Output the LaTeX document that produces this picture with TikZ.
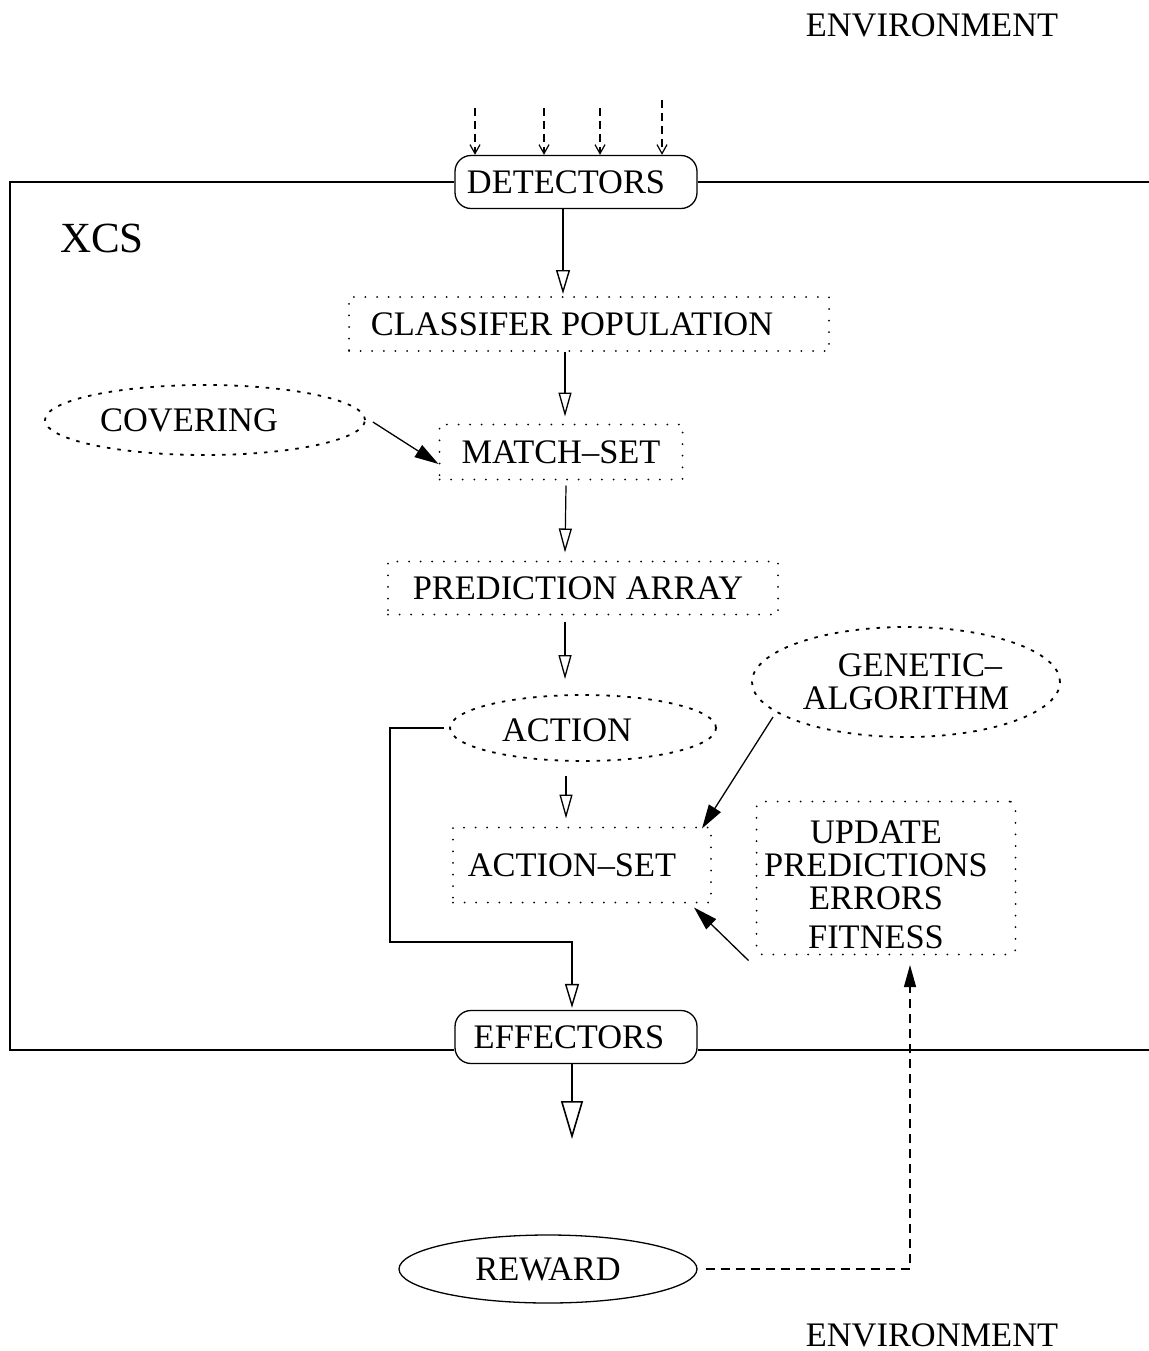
\documentclass[tikz,border=0pt]{standalone}
\usepackage{fontspec}
\setmainfont{Liberation Serif}
\usetikzlibrary{arrows.meta,shapes.geometric,calc}
\begin{document}
\begin{tikzpicture}[x=1pt,y=-1pt,
  every node/.style={font=\fontsize{34.4}{37}\selectfont, inner sep=0pt},
  unit/.style={draw, rounded corners=16pt, line width=1.3pt, minimum width=242pt, minimum height=53pt},
  dotbox/.style={draw, line width=2pt, dash pattern=on 0pt off 11.6pt, line cap=round},
  dotell/.style={draw, ellipse, line width=1.8pt, dash pattern=on 3.5pt off 7pt},
  solidell/.style={draw, ellipse, line width=1.3pt},
  openarr/.style={line width=1.2pt, -{Triangle[open, length=24pt, width=13pt, line width=1.3pt]}},
  bigarr/.style={line width=2.5pt, -{Triangle[open, length=38pt, width=22pt, line width=1.6pt]}},
  thickarr/.style={line width=2.2pt, -{Triangle[open, length=24pt, width=14pt, line width=1.4pt]}},
  fillarr/.style={line width=1.3pt, -{Triangle[length=24pt, width=14pt]}},
  inarr/.style={line width=1.2pt, dash pattern=on 8pt off 5pt, -{Straight Barb[length=9pt, width=10pt, line width=1.2pt]}},
  feedback/.style={line width=1.2pt, dash pattern=on 9pt off 6pt, -{Triangle[length=22pt, width=12pt]}}
]
\useasboundingbox (0,0) rectangle (1148,1351);

% environment labels
\node (envtop) at (932,25) {ENVIRONMENT};
\node (envbot) at (932,1335) {ENVIRONMENT};

% system boundary
\node[unit] (det) at (576,182) {DETECTORS\hspace*{20pt}};
\node[unit] (eff) at (576,1037) {EFFECTORS\hspace*{14pt}};
\draw[line width=1.5pt] (det.west) -- (10,182) -- (10,1050) -- (eff.west |- {(10,1050)});
\draw[line width=1.5pt] (det.east) -- (1150,182);
\draw[line width=1.5pt] (eff.east |- {(10,1050)}) -- (1150,1050);
\node[font=\fontsize{43}{45}\selectfont] (xcs) at (102,238) {XCS};

% inputs from the environment
\coordinate (in1) at (475,108);
\coordinate (in2) at (544,108);
\coordinate (in3) at (600,108);
\coordinate (in4) at (662,100);
\foreach \c in {in1,in2,in3,in4}
  \draw[inarr] (\c) -- (\c |- det.north);

% processing stages
\node[dotbox, minimum width=480pt, minimum height=54pt] (pop) at (589,324) {CLASSIFER POPULATION\hspace*{34pt}};
\node[dotbox, minimum width=243pt, minimum height=55pt] (ms) at (561,452) {MATCH--SET};
\node[dotbox, minimum width=390pt, minimum height=53pt] (pa) at (583,588) {PREDICTION ARRAY\hspace*{10pt}};
\node[dotell, minimum width=266pt, minimum height=66pt] (act) at (583,728) {};
\node at (567,730) {ACTION};
\node[dotbox, minimum width=258pt, minimum height=75pt] (as) at (582,865) {ACTION--SET\hspace*{20pt}};
\node[dotell, minimum width=320pt, minimum height=70pt] (cov) at (205,420) {};
\node at (189,420) {COVERING};
\node[dotell, minimum width=308pt, minimum height=110pt] (ga) at (906,682) {};
\node[align=center, font=\fontsize{34.4}{33}\selectfont] (galab) at (906,682) {\hspace*{28pt}GENETIC--\\ALGORITHM};
\node[dotbox, minimum width=259pt, minimum height=153pt, rounded corners=6pt] (upd) at (886,878) {};
\node[align=center, font=\fontsize{34.4}{33}\selectfont] (updlab) at (876,885) {UPDATE\\PREDICTIONS\\ERRORS\\[6pt]FITNESS};
\node[solidell, minimum width=298pt, minimum height=68pt] (rew) at (548,1269) {};
\node at (548,1269) {REWARD};

% main flow
\draw[thickarr] ([xshift=-13pt]det.south) -- ([xshift=-26pt,yshift=2pt]pop.north);
\draw[openarr] ([xshift=-24pt]pop.south) -- ([xshift=4pt,yshift=7pt]ms.north);
\draw[openarr] ([xshift=5pt,yshift=-5pt]ms.south) -- ([xshift=-18pt,yshift=8pt]pa.north);
\draw[openarr] ([xshift=-18pt,yshift=-6pt]pa.south) -- ([xshift=-18pt,yshift=15pt]act.north);
\draw[openarr] ([xshift=-17pt,yshift=-14pt]act.south) -- ([xshift=-16pt,yshift=8pt]as.north);
\draw[fillarr] ([xshift=7pt,yshift=-2pt]cov.east) -- ([yshift=-12pt]ms.west);
\draw[fillarr] (773,717) -- ([xshift=-10pt,yshift=-2pt]as.north east);
\draw[fillarr] ([xshift=-7pt,yshift=-5pt]upd.south west) -- ([xshift=-18pt,yshift=-4pt]as.south east);
\draw[thickarr, line width=1.8pt] ([xshift=-5pt]act.west) -- (390,728) -- (390,942) -- (572,942) -- ([xshift=-4pt,yshift=2pt]eff.north);
\draw[bigarr] ([xshift=-4pt]eff.south) -- (572,1139);

% reward feedback
\draw[feedback] ([xshift=8pt]rew.east) -- (910,1269) -- (910,965);
\end{tikzpicture}
\end{document}
